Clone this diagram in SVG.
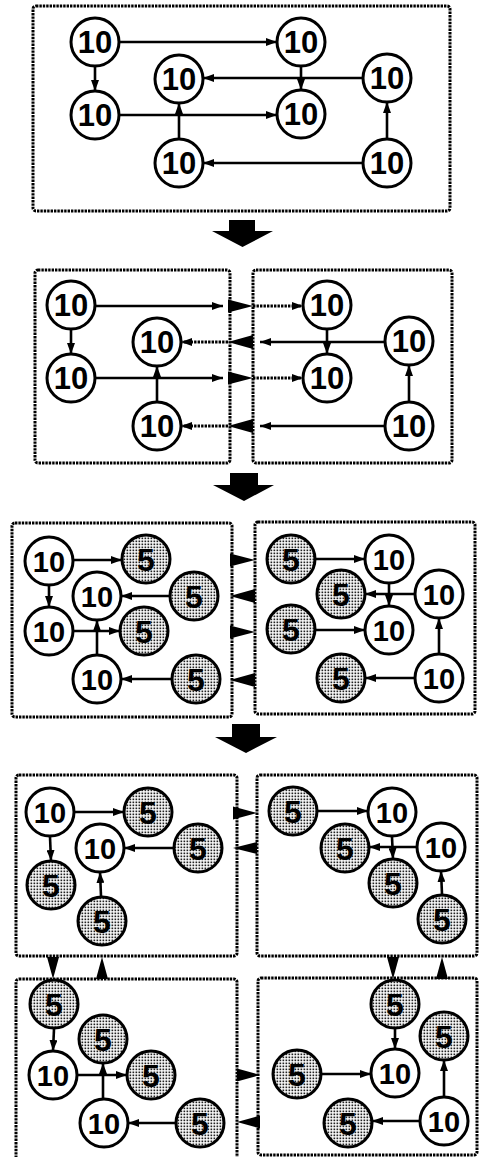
<svg xmlns="http://www.w3.org/2000/svg" width="481" height="1157" viewBox="0 0 481 1157">
<style>
.bg{fill:#fff}
.box{fill:none;stroke:#000;stroke-width:3;stroke-dasharray:2.4 1}
.n circle{fill:#fff;stroke:#000;stroke-width:3}
.s circle{fill:url(#dots);stroke:#000;stroke-width:3}
text{font-family:"Liberation Sans",Arial,Helvetica,sans-serif;font-weight:bold;text-anchor:middle;fill:#000}
.f30{font-size:31px}
.f28{font-size:29px}
.f5{font-size:32px}
.c{stroke:#000;stroke-width:2.6;fill:none;marker-end:url(#ah)}
.d{stroke-width:3;stroke-dasharray:2.4 1.1}
.tri{fill:#000}
</style>
<defs>
<pattern id="dots" patternUnits="userSpaceOnUse" width="3" height="3">
<rect width="3" height="3" fill="#fff"/>
<rect x="0.5" y="0.5" width="1.7" height="1.7" fill="#222"/>
</pattern>
<marker id="ah" markerUnits="userSpaceOnUse" markerWidth="12" markerHeight="8" refX="11" refY="4" orient="auto">
<path d="M0,0 L11,4 L0,8 z" fill="#000"/>
</marker>
</defs>
<rect class="bg" width="481" height="1157"/>

<g id="boxes">
<rect class="box" x="33" y="6" width="417" height="205" rx="3"/>
<rect class="box" x="35" y="270" width="195" height="193" rx="3"/>
<rect class="box" x="253" y="270" width="199" height="193" rx="3"/>
<rect class="box" x="12" y="523" width="220" height="194" rx="3"/>
<rect class="box" x="255" y="522" width="220" height="192" rx="3"/>
<rect class="box" x="16" y="775" width="221" height="181" rx="3"/>
<rect class="box" x="257" y="775" width="220" height="181" rx="3"/>
<rect class="box" x="16" y="979" width="221" height="190" rx="3"/>
<rect class="box" x="258" y="978" width="219" height="177" rx="3"/>
</g>

<g id="steps">
<path class="tri" d="M229,220 H255 V231 H273 L242.5,247 L212,231 H229 Z"/>
<path class="tri" d="M230,473 H258 V485 H274 L244,501 L213,485 H230 Z"/>
<path class="tri" d="M232,724 H260 V737 H277 L246,753 L215,737 H232 Z"/>
</g>

<g id="connectors">
<!-- panel 1 -->
<line class="c" x1="120" y1="42" x2="277" y2="42"/>
<line class="c" x1="95" y1="67" x2="95" y2="91"/>
<line class="c" x1="362" y1="78" x2="203" y2="78"/>
<line class="c" x1="301" y1="67" x2="301" y2="90"/>
<line class="c" x1="120" y1="115" x2="277" y2="115"/>
<line class="c" x1="179" y1="138" x2="179" y2="103"/>
<line class="c" x1="387" y1="138" x2="387" y2="102"/>
<line class="c" x1="362" y1="163" x2="203" y2="163"/>
<!-- panel 2 -->
<line class="c" x1="71" y1="330" x2="71" y2="354"/>
<line class="c" x1="157" y1="401" x2="157" y2="366"/>
<line class="c" x1="327" y1="330" x2="327" y2="354"/>
<line class="c" x1="409" y1="401" x2="409" y2="365"/>
<line class="c" x1="96" y1="306" x2="223" y2="306"/>
<path class="tri" d="M228,299.5 L253,306 L228,312.5 Z"/>
<line class="c d" x1="253" y1="306" x2="303" y2="306"/>
<line class="c" x1="385" y1="342" x2="260" y2="342"/>
<path class="tri" d="M253,335 L228,342 L253,349 Z"/>
<line class="c d" x1="228" y1="342" x2="181" y2="342"/>
<line class="c" x1="96" y1="378" x2="223" y2="378"/>
<path class="tri" d="M228,371.5 L253,378 L228,384.5 Z"/>
<line class="c d" x1="253" y1="378" x2="303" y2="378"/>
<line class="c" x1="385" y1="426" x2="260" y2="426"/>
<path class="tri" d="M253,419 L228,426 L253,433 Z"/>
<line class="c d" x1="228" y1="426" x2="181" y2="426"/>
<!-- panel 3 -->
<line class="c" x1="74" y1="560" x2="122" y2="560"/>
<line class="c" x1="49" y1="586" x2="49" y2="607"/>
<line class="c" x1="170" y1="596" x2="121" y2="596"/>
<line class="c" x1="74" y1="631" x2="120" y2="631"/>
<line class="c" x1="97" y1="654" x2="97" y2="620"/>
<line class="c" x1="171" y1="679" x2="121" y2="679"/>
<path class="tri" d="M230,553.5 L255,560 L230,566.5 Z"/>
<path class="tri" d="M255,589 L230,596 L255,603 Z"/>
<path class="tri" d="M230,625.5 L255,632 L230,638.5 Z"/>
<path class="tri" d="M255,673 L230,680 L255,687 Z"/>
<line class="c" x1="316" y1="559" x2="365" y2="559"/>
<line class="c" x1="414" y1="594" x2="365" y2="594"/>
<line class="c" x1="389" y1="584" x2="389" y2="606"/>
<line class="c" x1="316" y1="630" x2="365" y2="630"/>
<line class="c" x1="439" y1="653" x2="439" y2="618"/>
<line class="c" x1="414" y1="678" x2="365" y2="678"/>
<!-- panel 4 top -->
<line class="c" x1="75" y1="812" x2="124" y2="812"/>
<line class="c" x1="50" y1="837" x2="51" y2="861"/>
<line class="c" x1="173" y1="848" x2="124" y2="848"/>
<line class="c" x1="101" y1="896" x2="100" y2="872"/>
<path class="tri" d="M233,806.5 L257,813 L233,819.5 Z"/>
<path class="tri" d="M257,842 L233,848 L257,854 Z"/>
<line class="c" x1="318" y1="811" x2="368" y2="811"/>
<line class="c" x1="416" y1="847" x2="369" y2="847"/>
<line class="c" x1="392" y1="837" x2="393" y2="859"/>
<line class="c" x1="442" y1="894" x2="441" y2="871"/>
<path class="tri" d="M47,957 L59,957 L53,979 Z"/>
<path class="tri" d="M102,957 L108,979 L96,979 Z"/>
<path class="tri" d="M387,957 L399,957 L393,979 Z"/>
<path class="tri" d="M442,957 L448,979 L436,979 Z"/>
<!-- panel 4 bottom -->
<line class="c" x1="54" y1="1029" x2="53" y2="1051"/>
<line class="c" x1="78" y1="1075" x2="127" y2="1075"/>
<line class="c" x1="103" y1="1098" x2="103" y2="1063"/>
<line class="c" x1="175" y1="1123" x2="128" y2="1123"/>
<path class="tri" d="M237,1068.5 L260,1075 L237,1081.5 Z"/>
<path class="tri" d="M260,1115.5 L237,1122 L260,1128.5 Z"/>
<line class="c" x1="395" y1="1029" x2="395" y2="1049"/>
<line class="c" x1="322" y1="1074" x2="371" y2="1074"/>
<line class="c" x1="444" y1="1096" x2="444" y2="1060"/>
<line class="c" x1="419" y1="1121" x2="372" y2="1121"/>
</g>

<!-- panel 1 nodes -->
<g id="p1-a" class="n"><circle cx="95" cy="42" r="24"/><text class="f30" x="95" y="53">10</text></g>
<g id="p1-b" class="n"><circle cx="301" cy="42" r="24"/><text class="f30" x="301" y="53">10</text></g>
<g id="p1-c" class="n"><circle cx="179" cy="79" r="24"/><text class="f30" x="179" y="90">10</text></g>
<g id="p1-d" class="n"><circle cx="95" cy="115" r="24"/><text class="f30" x="95" y="126">10</text></g>
<g id="p1-e" class="n"><circle cx="301" cy="114" r="24"/><text class="f30" x="301" y="125">10</text></g>
<g id="p1-f" class="n"><circle cx="387" cy="78" r="24"/><text class="f30" x="387" y="89">10</text></g>
<g id="p1-g" class="n"><circle cx="179" cy="163" r="24"/><text class="f30" x="179" y="174">10</text></g>
<g id="p1-h" class="n"><circle cx="387" cy="163" r="24"/><text class="f30" x="387" y="174">10</text></g>

<!-- panel 2 nodes -->
<g id="p2-l1" class="n"><circle cx="71" cy="305" r="24"/><text class="f30" x="71" y="316">10</text></g>
<g id="p2-l2" class="n"><circle cx="71" cy="378" r="24"/><text class="f30" x="71" y="389">10</text></g>
<g id="p2-l3" class="n"><circle cx="157" cy="342" r="24"/><text class="f30" x="157" y="353">10</text></g>
<g id="p2-l4" class="n"><circle cx="157" cy="426" r="24"/><text class="f30" x="157" y="437">10</text></g>
<g id="p2-r1" class="n"><circle cx="327" cy="305" r="24"/><text class="f30" x="327" y="316">10</text></g>
<g id="p2-r2" class="n"><circle cx="327" cy="378" r="24"/><text class="f30" x="327" y="389">10</text></g>
<g id="p2-r3" class="n"><circle cx="409" cy="341" r="24"/><text class="f30" x="409" y="352">10</text></g>
<g id="p2-r4" class="n"><circle cx="409" cy="426" r="24"/><text class="f30" x="409" y="437">10</text></g>

<!-- panel 3 nodes -->
<g id="p3-l1" class="n"><circle cx="49" cy="561" r="24"/><text class="f28" x="49" y="571.5">10</text></g>
<g id="p3-l2" class="s"><circle cx="146" cy="559" r="24"/><text class="f5" x="146" y="570.5">5</text></g>
<g id="p3-l3" class="n"><circle cx="97" cy="596" r="24"/><text class="f28" x="97" y="606.5">10</text></g>
<g id="p3-l4" class="s"><circle cx="194" cy="596" r="24"/><text class="f5" x="194" y="607.5">5</text></g>
<g id="p3-l5" class="n"><circle cx="49" cy="631" r="24"/><text class="f28" x="49" y="641.5">10</text></g>
<g id="p3-l6" class="s"><circle cx="144" cy="631" r="24"/><text class="f5" x="144" y="642.5">5</text></g>
<g id="p3-l7" class="n"><circle cx="97" cy="679" r="24"/><text class="f28" x="97" y="689.5">10</text></g>
<g id="p3-l8" class="s"><circle cx="196" cy="679" r="24"/><text class="f5" x="196" y="690.5">5</text></g>
<g id="p3-r1" class="s"><circle cx="291" cy="559" r="24"/><text class="f5" x="291" y="570.5">5</text></g>
<g id="p3-r2" class="n"><circle cx="389" cy="559" r="24"/><text class="f28" x="389" y="569.5">10</text></g>
<g id="p3-r3" class="s"><circle cx="341" cy="594" r="24"/><text class="f5" x="341" y="605.5">5</text></g>
<g id="p3-r4" class="n"><circle cx="439" cy="594" r="24"/><text class="f28" x="439" y="604.5">10</text></g>
<g id="p3-r5" class="s"><circle cx="291" cy="629" r="24"/><text class="f5" x="291" y="640.5">5</text></g>
<g id="p3-r6" class="n"><circle cx="389" cy="630" r="24"/><text class="f28" x="389" y="640.5">10</text></g>
<g id="p3-r7" class="s"><circle cx="341" cy="678" r="24"/><text class="f5" x="341" y="689.5">5</text></g>
<g id="p3-r8" class="n"><circle cx="439" cy="678" r="24"/><text class="f28" x="439" y="688.5">10</text></g>

<!-- panel 4 top nodes -->
<g id="p4-a1" class="n"><circle cx="50" cy="812" r="24"/><text class="f28" x="50" y="822.5">10</text></g>
<g id="p4-a2" class="s"><circle cx="148" cy="812" r="24"/><text class="f5" x="148" y="823.5">5</text></g>
<g id="p4-a3" class="n"><circle cx="100" cy="848" r="24"/><text class="f28" x="100" y="858.5">10</text></g>
<g id="p4-a4" class="s"><circle cx="198" cy="848" r="24"/><text class="f5" x="198" y="859.5">5</text></g>
<g id="p4-a5" class="s"><circle cx="51" cy="885" r="24"/><text class="f5" x="51" y="896.5">5</text></g>
<g id="p4-a6" class="s"><circle cx="102" cy="921" r="24"/><text class="f5" x="102" y="932.5">5</text></g>
<g id="p4-b1" class="s"><circle cx="293" cy="811" r="24"/><text class="f5" x="293" y="822.5">5</text></g>
<g id="p4-b2" class="n"><circle cx="392" cy="812" r="24"/><text class="f28" x="392" y="822.5">10</text></g>
<g id="p4-b3" class="s"><circle cx="345" cy="848" r="24"/><text class="f5" x="345" y="859.5">5</text></g>
<g id="p4-b4" class="n"><circle cx="441" cy="847" r="24"/><text class="f28" x="441" y="857.5">10</text></g>
<g id="p4-b5" class="s"><circle cx="393" cy="883" r="24"/><text class="f5" x="393" y="894.5">5</text></g>
<g id="p4-b6" class="s"><circle cx="442" cy="919" r="24"/><text class="f5" x="442" y="930.5">5</text></g>

<!-- panel 4 bottom nodes -->
<g id="p4-c1" class="s"><circle cx="54" cy="1004" r="24"/><text class="f5" x="54" y="1015.5">5</text></g>
<g id="p4-c2" class="s"><circle cx="103" cy="1039" r="24"/><text class="f5" x="103" y="1050.5">5</text></g>
<g id="p4-c3" class="n"><circle cx="53" cy="1075" r="24"/><text class="f28" x="53" y="1085.5">10</text></g>
<g id="p4-c4" class="s"><circle cx="151" cy="1075" r="24"/><text class="f5" x="151" y="1086.5">5</text></g>
<g id="p4-c5" class="n"><circle cx="104" cy="1123" r="24"/><text class="f28" x="104" y="1133.5">10</text></g>
<g id="p4-c6" class="s"><circle cx="200" cy="1123" r="24"/><text class="f5" x="200" y="1134.5">5</text></g>
<g id="p4-d1" class="s"><circle cx="395" cy="1004" r="24"/><text class="f5" x="395" y="1015.5">5</text></g>
<g id="p4-d2" class="s"><circle cx="444" cy="1036" r="24"/><text class="f5" x="444" y="1047.5">5</text></g>
<g id="p4-d3" class="s"><circle cx="297" cy="1074" r="24"/><text class="f5" x="297" y="1085.5">5</text></g>
<g id="p4-d4" class="n"><circle cx="395" cy="1073" r="24"/><text class="f28" x="395" y="1083.5">10</text></g>
<g id="p4-d5" class="s"><circle cx="348" cy="1123" r="24"/><text class="f5" x="348" y="1134.5">5</text></g>
<g id="p4-d6" class="n"><circle cx="444" cy="1121" r="24"/><text class="f28" x="444" y="1131.5">10</text></g>
</svg>
